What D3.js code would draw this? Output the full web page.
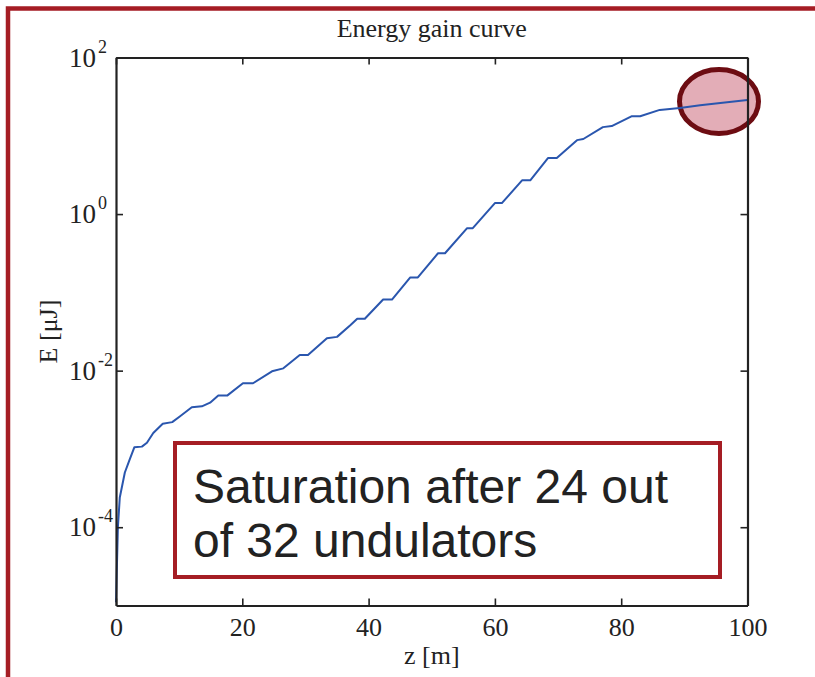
<!DOCTYPE html>
<html>
<head>
<meta charset="utf-8">
<script src="https://cdn.jsdelivr.net/npm/d3@7"></script>
<style>
  html, body { margin: 0; padding: 0; background: #fff; }
  svg { display: block; }
  text { font-family: "Liberation Serif", "Times New Roman", serif; fill: #222; }
</style>
</head>
<body>
<svg id="chart" width="815" height="677"></svg>
<script>
// Undulator line position along the beamline [m]
const zValues = [
  0, 0.3, 0.6, 1.4, 2.1, 2.9, 4.1, 4.9, 5.9, 7.4, 8.9, 10.1, 12.0, 13.6, 14.9,
  16.2, 17.6, 20.1, 21.7, 24.7, 26.5, 29.1, 30.4, 33.4, 35.0, 37.1, 38.2, 39.4,
  42.3, 43.7, 46.6, 47.8, 51.0, 52.1, 55.6, 56.5, 60.0, 61.1, 64.3, 65.6, 68.4,
  69.8, 73.0, 74.0, 77.1, 78.5, 81.7, 83.0, 86.1, 89.3, 92.5, 95.7, 100
];
// Pulse energy at each position [µJ]
const energyValues = [
  1.1e-5, 1.0e-4, 2.4e-4, 5.0e-4, 7.1e-4, 1.05e-3, 1.07e-3, 1.2e-3, 1.6e-3, 2.1e-3,
  2.2e-3, 2.6e-3, 3.4e-3, 3.5e-3, 3.9e-3, 4.8e-3, 4.8e-3, 6.9e-3, 6.9e-3, 9.8e-3,
  1.07e-2, 1.58e-2, 1.58e-2, 2.6e-2, 2.7e-2, 3.8e-2, 4.6e-2, 4.6e-2, 8.1e-2, 8.1e-2,
  0.155, 0.155, 0.316, 0.316, 0.66, 0.66, 1.38, 1.38, 2.7, 2.7, 5.2, 5.2, 8.8, 9.1,
  12.9, 13.3, 17.8, 17.8, 21.4, 22.6, 24.5, 26.3, 28.6
];
const xTickValues = [0, 20, 40, 60, 80, 100];
const yTickExponents = [2, 0, -2, -4];
const noteLines = ["Saturation after 24 out", "of 32 undulators"];

const svg = d3.select("#chart");
const plotLeft = 116, plotRight = 747.5, plotTop = 57.5, plotBottom = 605.5;

const x = d3.scaleLinear().domain([0, 100]).range([plotLeft, plotRight]);
const y = d3.scaleLog().domain([1e-5, 1e2]).range([plotBottom, plotTop]);

// Slide frame (red border along top and left)
svg.append("rect")
  .attr("x", 8).attr("y", 8.5).attr("width", 840).attr("height", 700)
  .attr("fill", "none").attr("stroke", "#a51d24").attr("stroke-width", 4.5);

// Saturation highlight ellipse
svg.append("ellipse")
  .attr("cx", 719).attr("cy", 101.5).attr("rx", 39.5).attr("ry", 32)
  .attr("fill", "#e3adb7").attr("stroke", "#6d0c12").attr("stroke-width", 5);

// Energy curve
const line = d3.line().x((d, i) => x(zValues[i])).y(d => y(d));
svg.append("path")
  .datum(energyValues)
  .attr("d", line)
  .attr("fill", "none")
  .attr("stroke", "#2a56ae")
  .attr("stroke-width", 2)
  .attr("stroke-linejoin", "round");

// Axes with inward ticks on all four sides
const tickLen = 7;
const yTicks = yTickExponents.map(e => Math.pow(10, e));
const axisBottom = d3.axisBottom(x).tickValues(xTickValues).tickSizeInner(-tickLen).tickSizeOuter(0).tickPadding(12);
const axisTop = d3.axisTop(x).tickValues(xTickValues).tickSizeInner(-tickLen).tickSizeOuter(0).tickFormat("");
const axisLeft = d3.axisLeft(y).tickValues(yTicks).tickSizeInner(-tickLen).tickSizeOuter(0).tickFormat("");
const axisRight = d3.axisRight(y).tickValues(yTicks).tickSizeInner(-tickLen).tickSizeOuter(0).tickFormat("");

function styleAxis(g) {
  g.select(".domain").attr("stroke", "#222").attr("stroke-width", 2.2);
  g.selectAll(".tick line").attr("stroke", "#222").attr("stroke-width", 1.6);
  g.selectAll(".tick text")
    .attr("font-family", "Liberation Serif, Times New Roman, serif")
    .attr("font-size", 26).attr("fill", "#222");
}

svg.append("g").attr("transform", `translate(0,${plotBottom})`).call(axisBottom).call(styleAxis);
svg.append("g").attr("transform", `translate(0,${plotTop})`).call(axisTop).call(styleAxis);
svg.append("g").attr("transform", `translate(${plotLeft},0)`).call(axisLeft).call(styleAxis);
svg.append("g").attr("transform", `translate(${plotRight},0)`).call(axisRight).call(styleAxis);

// Power-of-ten tick labels on the y axis
yTickExponents.forEach(e => {
  const ty = y(Math.pow(10, e));
  const t = svg.append("text")
    .attr("x", 69).attr("y", ty + 9)
    .attr("font-size", 27);
  t.append("tspan").text("10");
  t.append("tspan").attr("dy", -14).attr("dx", 2).attr("font-size", 18).text(String(e));
});

// Title and axis labels
svg.append("text")
  .attr("x", (plotLeft + plotRight) / 2).attr("y", 37)
  .attr("text-anchor", "middle").attr("font-size", 26)
  .text("Energy gain curve");

svg.append("text")
  .attr("x", (plotLeft + plotRight) / 2).attr("y", 664)
  .attr("text-anchor", "middle").attr("font-size", 26)
  .text("z [m]");

svg.append("text")
  .attr("transform", `translate(57,${(plotTop + plotBottom) / 2}) rotate(-90)`)
  .attr("text-anchor", "middle").attr("font-size", 26)
  .text("E [\u03bcJ]");

// Annotation box
svg.append("rect")
  .attr("x", 175).attr("y", 443).attr("width", 545).attr("height", 134)
  .attr("fill", "#fff").attr("stroke", "#a51d24").attr("stroke-width", 4);

const note = svg.append("text")
  .attr("x", 193).attr("y", 503)
  .style("font-family", "'Liberation Sans', Arial, sans-serif")
  .attr("font-size", 48).attr("fill", "#231f20");
noteLines.forEach((s, i) => {
  note.append("tspan").attr("x", 193).attr("dy", i === 0 ? 0 : 54).text(s);
});
</script>
</body>
</html>
